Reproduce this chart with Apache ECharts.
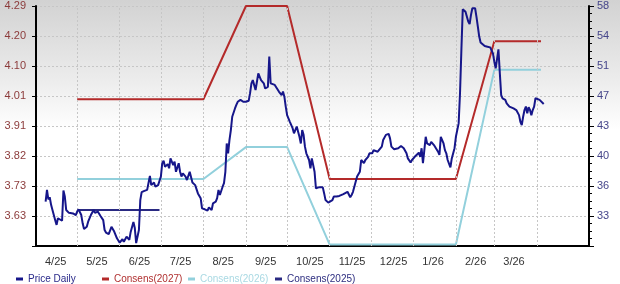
<!DOCTYPE html>
<html><head><meta charset="utf-8">
<script src="https://cdn.jsdelivr.net/npm/echarts@6/dist/echarts.min.js"></script>
<style>
html,body{margin:0;padding:0;width:620px;height:284px;overflow:hidden;background:linear-gradient(to bottom,#d2d2d2 0px,#ececec 80px,#ffffff 130px);}
#chart{width:620px;height:284px;}
</style>
</head><body><div id="chart"></div>
<script>
// ---- tick labels ----
const xLabels = ['4/25','5/25','6/25','7/25','8/25','9/25','10/25','11/25','12/25','1/26','2/26','3/26'];
const monthStarts = ['2025-05-01','2025-06-01','2025-07-01','2025-08-01','2025-09-01','2025-10-01','2025-11-01','2025-12-01','2026-01-01','2026-02-01','2026-03-01','2026-04-01'];
const leftTickLabels = ['', '3.63','3.73','3.82','3.91','4.01','4.10','4.20','4.29'];
const rightTickLabels = ['', '33','36','40','43','47','51','54','58'];

// ---- Price Daily ----
const priceDates = [
'2025-04-08','2025-04-09','2025-04-10','2025-04-11','2025-04-12','2025-04-13','2025-04-15','2025-04-16','2025-04-17','2025-04-18','2025-04-20','2025-04-21','2025-04-22','2025-04-23','2025-04-25','2025-04-28','2025-04-30',
'2025-05-01','2025-05-02','2025-05-04','2025-05-05','2025-05-06','2025-05-08','2025-05-09','2025-05-11','2025-05-13','2025-05-14','2025-05-16','2025-05-18','2025-05-20','2025-05-21','2025-05-22','2025-05-24','2025-05-26','2025-05-28','2025-05-30',
'2025-06-01','2025-06-03','2025-06-04','2025-06-06','2025-06-08','2025-06-09','2025-06-11','2025-06-12','2025-06-13','2025-06-15','2025-06-16','2025-06-17','2025-06-19','2025-06-21','2025-06-22','2025-06-23','2025-06-24','2025-06-26','2025-06-27','2025-06-29','2025-06-30',
'2025-07-01','2025-07-02','2025-07-03','2025-07-04','2025-07-06','2025-07-07','2025-07-08','2025-07-10','2025-07-11','2025-07-12','2025-07-14','2025-07-15','2025-07-16','2025-07-17','2025-07-19','2025-07-20','2025-07-22','2025-07-23','2025-07-24','2025-07-26','2025-07-27','2025-07-28','2025-07-30','2025-07-31',
'2025-08-02','2025-08-04','2025-08-05','2025-08-07','2025-08-08','2025-08-10','2025-08-11','2025-08-12','2025-08-13','2025-08-15','2025-08-16','2025-08-17','2025-08-18','2025-08-19','2025-08-20','2025-08-21','2025-08-22','2025-08-24','2025-08-25','2025-08-26','2025-08-27','2025-08-28','2025-08-30',
'2025-09-01','2025-09-03','2025-09-04','2025-09-05','2025-09-06','2025-09-08','2025-09-09','2025-09-10','2025-09-11','2025-09-12','2025-09-14','2025-09-15','2025-09-16','2025-09-17','2025-09-18','2025-09-19','2025-09-20','2025-09-22','2025-09-23','2025-09-25','2025-09-26','2025-09-27','2025-09-28','2025-09-29','2025-09-30',
'2025-10-01','2025-10-02','2025-10-03','2025-10-05','2025-10-06','2025-10-08','2025-10-10','2025-10-11','2025-10-12','2025-10-13','2025-10-14','2025-10-15','2025-10-17','2025-10-18','2025-10-19','2025-10-20','2025-10-21','2025-10-22','2025-10-23','2025-10-24','2025-10-25','2025-10-27','2025-10-28','2025-10-29','2025-10-31',
'2025-11-01','2025-11-03','2025-11-04','2025-11-05','2025-11-06','2025-11-08','2025-11-09','2025-11-11','2025-11-12','2025-11-14','2025-11-15','2025-11-16','2025-11-17','2025-11-18','2025-11-19','2025-11-21','2025-11-22','2025-11-23','2025-11-24','2025-11-25','2025-11-26','2025-11-27','2025-11-29','2025-11-30',
'2025-12-02','2025-12-03','2025-12-04','2025-12-06','2025-12-07','2025-12-09','2025-12-10','2025-12-12','2025-12-14','2025-12-15','2025-12-16','2025-12-18','2025-12-19','2025-12-21','2025-12-23','2025-12-25','2025-12-27','2025-12-28','2025-12-30','2025-12-31',
'2026-01-02','2026-01-03','2026-01-05','2026-01-06','2026-01-07','2026-01-08','2026-01-09','2026-01-10','2026-01-11','2026-01-12','2026-01-13','2026-01-14','2026-01-16','2026-01-17','2026-01-19','2026-01-20','2026-01-21','2026-01-22','2026-01-23','2026-01-24','2026-01-25','2026-01-26','2026-01-28','2026-01-29','2026-01-31',
'2026-02-01','2026-02-03','2026-02-04','2026-02-05','2026-02-06','2026-02-07','2026-02-08','2026-02-09','2026-02-10','2026-02-11','2026-02-12','2026-02-13','2026-02-15','2026-02-16','2026-02-17','2026-02-18','2026-02-19','2026-02-20','2026-02-22','2026-02-23','2026-02-24','2026-02-25','2026-02-26','2026-02-28',
'2026-03-01','2026-03-02','2026-03-03','2026-03-04','2026-03-05','2026-03-06','2026-03-07','2026-03-09','2026-03-10','2026-03-12','2026-03-13','2026-03-15','2026-03-16','2026-03-17','2026-03-19','2026-03-20','2026-03-21','2026-03-22','2026-03-23','2026-03-24','2026-03-25','2026-03-26','2026-03-27','2026-03-28','2026-03-29','2026-03-30','2026-03-31',
'2026-04-01','2026-04-03','2026-04-04','2026-04-06'
];
const priceValues = [
3.675,3.712,3.682,3.689,3.665,3.649,3.617,3.602,3.623,3.628,3.615,3.710,3.691,3.649,3.640,3.638,3.633,
3.644,3.651,3.633,3.607,3.589,3.596,3.612,3.633,3.649,3.640,3.644,3.630,3.617,3.586,3.578,3.573,3.596,3.581,3.560,
3.546,3.557,3.549,3.565,3.555,3.580,3.611,3.592,3.545,3.586,3.680,3.705,3.709,3.712,3.734,3.756,3.727,3.735,3.722,3.727,3.733,
3.754,3.796,3.804,3.785,3.793,3.780,3.811,3.790,3.801,3.769,3.796,3.769,3.754,3.764,3.754,3.743,3.769,3.775,3.735,3.727,3.722,3.701,3.686,3.654,
3.651,3.647,3.657,3.649,3.670,3.675,3.686,3.712,3.696,3.722,3.733,3.769,3.858,3.827,3.869,3.900,3.942,3.968,3.979,3.989,3.984,3.995,3.989,
3.989,3.992,4.016,4.047,4.057,4.026,4.052,4.078,4.073,4.057,4.047,4.031,4.026,4.036,4.131,4.047,4.052,4.042,4.042,4.021,4.026,4.010,4.021,4.005,3.974,
3.947,3.953,3.926,3.906,3.890,3.911,3.879,3.858,3.900,3.885,3.848,3.827,3.806,3.780,3.811,3.816,3.769,3.717,3.712,3.720,3.717,3.720,3.701,3.680,3.672,
3.678,3.680,3.691,3.686,3.691,3.693,3.696,3.699,3.701,3.706,3.710,3.689,3.696,3.706,3.712,3.754,3.759,3.769,3.806,3.801,3.796,3.806,3.816,3.827,
3.827,3.837,3.843,3.832,3.837,3.848,3.869,3.885,3.888,3.874,3.848,3.840,3.837,3.843,3.850,3.843,3.827,3.811,3.798,3.806,
3.816,3.822,3.829,3.816,3.843,3.796,3.837,3.879,3.858,3.863,3.853,3.863,3.853,3.848,3.832,3.822,3.879,3.885,3.858,3.837,3.827,3.806,3.783,3.811,3.843,
3.879,3.921,4.016,4.152,4.280,4.280,4.272,4.267,4.241,4.233,4.262,4.283,4.283,4.256,4.225,4.194,4.175,4.173,4.164,4.160,4.162,4.164,4.160,4.141,
4.115,4.094,4.089,4.154,4.080,4.010,4.000,3.995,3.984,3.974,3.968,3.968,3.963,3.963,3.947,3.926,3.916,3.942,3.963,3.974,3.953,3.972,3.963,3.947,3.963,3.974,4.000,
3.995,3.995,3.989,3.982
];

// ---- Consensus estimates (right axis) ----
const consensDates = ['2025-05-01','2025-08-01','2025-09-01','2025-10-01','2025-11-01','2026-02-01','2026-03-01','2026-04-04'];
const consens2027 = [46.9,46.9,58.0,58.0,37.4,37.4,53.8,53.8];
const consens2026 = [37.4,37.4,41.2,41.2,29.6,29.6,50.4,50.4];
const consensDates2025 = ['2025-05-01','2025-06-30'];
const consens2025 = [33.7,33.7];

// ---- legend ----
const legendNames = ['Price Daily','Consens(2027)','Consens(2026)','Consens(2025)'];
const legendTextColors = ['#2a2a8a','#b03030','#a9d9e3','#2e2e80'];
const legendLefts = [11, 97, 183, 270];

// ---- axis extents ----
const leftMax = 4.29, leftStep = (4.29 - 3.63) / 7, leftMin = leftMax - 8 * leftStep;
const rightMax = 58, rightStep = (58 - 33) / 7, rightMin = rightMax - 8 * rightStep;
const xStart = '2025-04-01', xEnd = '2026-05-09';

const zip = (a, b) => a.map((d, i) => [d, b[i]]);
const FONT = 'Liberation Sans, Arial, sans-serif';
const C = {price:'#16168a', c27:'#b42a2a', c26:'#92d0dc', c25:'#2a2a82'};
const gridLine = {color: '#c6c6c6', type: [2, 2], width: 1};

const chart = echarts.init(document.getElementById('chart'));
chart.setOption({
  animation: false,
  backgroundColor: 'transparent',
  grid: {left: 36, right: 31, top: 6, bottom: 38},
  legend: legendNames.map((n, i) => ({
    left: legendLefts[i], top: 269, icon: 'rect', itemWidth: 7, itemHeight: 3, itemGap: 0,
    selectedMode: false,
    textStyle: {fontSize: 10, fontFamily: FONT, color: legendTextColors[i]},
    data: [n]
  })),
  xAxis: {
    type: 'time', min: xStart, max: xEnd,
    minInterval: 28 * 86400000, maxInterval: 31 * 86400000,
    axisLine: {lineStyle: {color: '#000', width: 2}},
    axisTick: {show: false},
    splitLine: {show: false},
    axisLabel: {
      color: '#333', fontSize: 11, fontFamily: FONT, margin: 10, align: 'left', padding: [0, 0, 0, 9],
      formatter: function (v) {
        const d = new Date(v);
        const s = (d.getMonth() + 1) + '/' + String(d.getFullYear()).slice(2);
        return xLabels.indexOf(s) >= 0 ? s : '';
      }
    }
  },
  yAxis: [
    {
      type: 'value', min: leftMin, max: leftMax, interval: leftStep, position: 'left',
      axisLine: {show: true, lineStyle: {color: '#000', width: 2}},
      axisTick: {show: true, length: 4, lineStyle: {color: '#000'}},
      splitLine: {show: true, lineStyle: gridLine},
      axisLabel: {color: '#8c3b3b', fontSize: 11, fontFamily: FONT, margin: 10,
        formatter: v => leftTickLabels[Math.round((v - leftMin) / leftStep)] || ''}
    },
    {
      type: 'value', min: rightMin, max: rightMax, interval: rightStep, position: 'right',
      axisLine: {show: true, lineStyle: {color: '#000', width: 2}},
      axisTick: {show: true, length: 5, lineStyle: {color: '#000'}},
      minorTick: {show: true, splitNumber: 4, length: 3, lineStyle: {color: '#000'}},
      splitLine: {show: false},
      axisLabel: {color: '#45458a', fontSize: 11, fontFamily: FONT, margin: 8,
        formatter: v => rightTickLabels[Math.round((v - rightMin) / rightStep)] || ''}
    }
  ],
  series: [
    {name: '_grid', type: 'line', yAxisIndex: 0, z: 1, data: [], silent: true,
      markLine: {silent: true, symbol: 'none', label: {show: false}, lineStyle: gridLine,
        emphasis: {disabled: true}, animation: false,
        data: monthStarts.map(d => ({xAxis: d}))}},
    {name: 'Price Daily', type: 'line', yAxisIndex: 0, z: 5, showSymbol: false, symbol: 'none',
      data: zip(priceDates, priceValues), lineStyle: {color: C.price, width: 2}, itemStyle: {color: C.price}},
    {name: 'Consens(2027)', type: 'line', yAxisIndex: 1, z: 3, showSymbol: false, symbol: 'none',
      data: zip(consensDates, consens2027), lineStyle: {color: C.c27, width: 2}, itemStyle: {color: C.c27}},
    {name: 'Consens(2026)', type: 'line', yAxisIndex: 1, z: 3, showSymbol: false, symbol: 'none',
      data: zip(consensDates, consens2026), lineStyle: {color: C.c26, width: 2}, itemStyle: {color: C.c26}},
    {name: 'Consens(2025)', type: 'line', yAxisIndex: 1, z: 3, showSymbol: false, symbol: 'none',
      data: zip(consensDates2025, consens2025), lineStyle: {color: C.c25, width: 2}, itemStyle: {color: C.c25}}
  ]
});
</script></body></html>
